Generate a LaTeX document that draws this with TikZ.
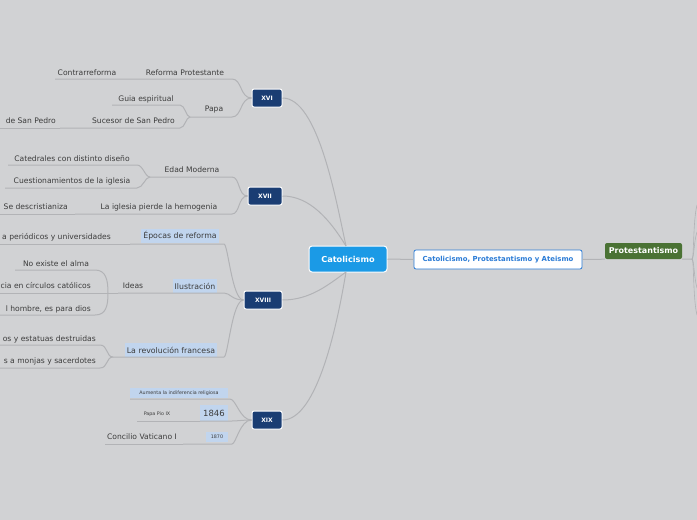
\documentclass[tikz,border=0pt]{standalone}
\usepackage{fontspec}
\setmainfont{DejaVu Sans}
\definecolor{bg}{RGB}{209,210,212}
\definecolor{ln}{RGB}{178,179,182}
\definecolor{txt}{RGB}{60,60,60}
\definecolor{navy}{RGB}{26,61,115}
\definecolor{catb}{RGB}{27,154,230}
\definecolor{grn}{RGB}{74,114,52}
\definecolor{hl}{RGB}{193,213,238}
\definecolor{linkb}{RGB}{42,123,214}
\tikzset{
  conn/.style={draw=ln, line width=1pt},
  lbl/.style={text=txt, font=\fontsize{7.6}{9}\selectfont, inner sep=0pt},
  hlbox/.style={fill=hl, text=txt, font=\fontsize{7.8}{9}\selectfont, inner sep=2pt, minimum height=14pt},
  century/.style={fill=navy, draw=white, line width=1pt, rounded corners=2pt, text=white, font=\bfseries\fontsize{6}{7}\selectfont, minimum height=18pt, inner sep=0pt},
}
\begin{document}
\begin{tikzpicture}[x=1pt,y=-1pt]
\path[fill=bg, use as bounding box] (0,0) rectangle (697,520);

% central nodes
\node[fill=catb, draw=white, line width=1pt, rounded corners=3pt, text=white, font=\bfseries\fontsize{8.2}{9}\selectfont, minimum width=78pt, minimum height=26pt, inner sep=0pt] (cat) at (348,259) {Catolicismo};
\node[fill=white, draw=linkb, line width=0.8pt, rounded corners=2pt, text=linkb, font=\bfseries\fontsize{6.9}{8}\selectfont, minimum width=168pt, minimum height=19pt, inner sep=0pt] (link) at (498,259.5) {Catolicismo, Protestantismo y Ateismo};
\node[fill=grn, rounded corners=2pt, text=white, font=\bfseries\fontsize{8}{9}\selectfont, minimum width=77pt, minimum height=16pt, inner sep=0pt] (prot) at (643.5,251) {Protestantismo};
\coordinate (protR) at (692,259);
\coordinate (e1) at (697,205);
\coordinate (e2) at (697,232);
\coordinate (e3) at (697,288);
\coordinate (e4) at (697,315);

% century nodes
\node[century, minimum width=30pt] (xvi) at (267,98) {XVI};
\node[century, minimum width=34pt] (xvii) at (265,196) {XVII};
\node[century, minimum width=38pt] (xviii) at (263,300) {XVIII};
\node[century, minimum width=30pt] (xix) at (267,420) {XIX};

% central connectors
\coordinate (catT) at (346,246);
\coordinate (catB) at (346,272);
\draw[conn] (xvi.east) .. controls (318,98) and (336,200) .. (catT);
\draw[conn] (xvii.east) .. controls (310,196) and (330,220) .. (catT);
\draw[conn] (xviii.east) .. controls (310,300) and (328,285) .. (catB);
\draw[conn] (xix.east) .. controls (318,420) and (338,320) .. (catB);
\draw[conn] (cat.east) -- (link.west);
\draw[conn] (link.east) -- (prot.south west);
\draw[conn] (prot.south east) -- (protR);
\draw[conn, line width=0.6pt] (protR) .. controls (694,259) and (693,220) .. (e1);
\draw[conn, line width=0.6pt] (protR) .. controls (694,259) and (694,240) .. (e2);
\draw[conn, line width=0.6pt] (protR) .. controls (694,259) and (694,278) .. (e3);
\draw[conn, line width=0.6pt] (protR) .. controls (694,259) and (693,300) .. (e4);

% ---------- XVI ----------
\node[lbl] (rp) at (185,73) {Reforma Protestante};
\node[lbl] (contra) at (87,73) {Contrarreforma};
\coordinate (rpR) at (232,79); \coordinate (rpL) at (135,79); \coordinate (coL) at (55,79);
\draw[conn] (xvi.west) .. controls (240,98) and (242,79) .. (rpR) -- (rpL) -- (coL);
\node[lbl] (papa) at (214,110) {Papa};
\coordinate (paR) at (232,117); \coordinate (paL) at (190,117);
\draw[conn] (xvi.west) .. controls (240,98) and (242,117) .. (paR) -- (paL);
\node[lbl] (guia) at (146,99) {Guia espiritual};
\coordinate (guR) at (180,105); \coordinate (guL) at (112,105);
\draw[conn] (paL) .. controls (186,117) and (185,105) .. (guR) -- (guL);
\node[lbl, anchor=east] (suc) at (175,121) {Sucesor de San Pedro};
\coordinate (suR) at (180,128); \coordinate (suL) at (60,128); \coordinate (sdL) at (0,128);
\draw[conn] (paL) .. controls (186,117) and (185,128) .. (suR) -- (suL);
\node[lbl, anchor=east] (sdsp) at (56,121) {de San Pedro};
\draw[conn] (suL) -- (sdL);

% ---------- XVII ----------
\node[lbl] (edad) at (192,170) {Edad Moderna};
\coordinate (edR) at (232,177); \coordinate (edL) at (150,177);
\draw[conn] (xvii.west) .. controls (238,196) and (240,177) .. (edR) -- (edL);
\node[lbl] (catd) at (72,159) {Catedrales con distinto diseño};
\coordinate (caR) at (137,165); \coordinate (caL) at (8,165);
\draw[conn] (edL) .. controls (145,177) and (143,165) .. (caR) -- (caL);
\node[lbl] (cues) at (72,181) {Cuestionamientos de la iglesia};
\coordinate (cuR) at (137,188); \coordinate (cuL) at (5,188);
\draw[conn] (edL) .. controls (145,177) and (143,188) .. (cuR) -- (cuL);
\node[lbl] (pierde) at (159,207) {La iglesia pierde la hemogenia};
\coordinate (piR) at (232,214); \coordinate (piL) at (75,214); \coordinate (seL) at (0,214);
\draw[conn] (xvii.west) .. controls (238,196) and (240,214) .. (piR) -- (piL);
\node[lbl, anchor=east] (sedes) at (68,207) {Se descristianiza};
\draw[conn] (piL) -- (seL);

% ---------- XVIII ----------
\node[hlbox] (epocas) at (180,236) {Épocas de reforma};
\coordinate (epR) at (224,244); \coordinate (epL) at (130,244); \coordinate (peL) at (0,244);
\draw[conn] (xviii.west) .. controls (232,300) and (228,244) .. (epR) -- (epL);
\node[lbl, anchor=east] (perio) at (111,237) {a periódicos y universidades};
\draw[conn] (epL) -- (peL);

\node[hlbox] (ilus) at (195,286) {Ilustración};
\coordinate (ilR) at (224,293); \coordinate (ilL) at (118,293);
\draw[conn] (xviii.west) .. controls (232,300) and (230,293) .. (ilR) -- (ilL);
\node[lbl] (ideas) at (133,286) {Ideas};
\coordinate (idL) at (108,293);
\draw[conn] (ilL) -- (idL);
\node[lbl] (alma) at (56,264) {No existe el alma};
\coordinate (alR) at (95,270); \coordinate (alL) at (15,270);
\draw[conn] (idL) .. controls (108,280) and (106,270) .. (alR) -- (alL);
\node[lbl, anchor=east] (circ) at (91,286) {cia en círculos católicos};
\coordinate (ciL) at (0,293);
\draw[conn] (idL) -- (ciL);
\node[lbl, anchor=east] (hombre) at (91,309) {l hombre, es para dios};
\coordinate (hoR) at (95,315); \coordinate (hoL) at (0,315);
\draw[conn] (idL) .. controls (108,306) and (106,315) .. (hoR) -- (hoL);

\node[hlbox] (revo) at (171,350) {La revolución francesa};
\coordinate (reR) at (224,357); \coordinate (reL) at (113,357);
\draw[conn] (xviii.west) .. controls (232,300) and (228,357) .. (reR) -- (reL);
\node[lbl, anchor=east] (estat) at (96,339) {os y estatuas destruidas};
\coordinate (esR) at (100,345); \coordinate (esL) at (0,345);
\draw[conn] (reL) .. controls (106,357) and (108,345) .. (esR) -- (esL);
\node[lbl, anchor=east] (monj) at (96,361) {s a monjas y sacerdotes};
\coordinate (moR) at (100,368); \coordinate (moL) at (0,368);
\draw[conn] (reL) .. controls (106,357) and (108,368) .. (moR) -- (moL);

% ---------- XIX ----------
\node[fill=hl, text=txt, font=\fontsize{4.8}{5}\selectfont, inner sep=1.5pt, minimum width=98pt, minimum height=10pt] (aum) at (179,393) {Aumenta la indiferencia religiosa};
\coordinate (auR) at (230,399); \coordinate (auL) at (130,399);
\draw[conn] (xix.west) .. controls (240,420) and (236,399) .. (auR) -- (auL);
\node[fill=hl, text=txt, font=\fontsize{8.5}{10}\selectfont, inner sep=0pt, minimum width=28pt, minimum height=16pt] (y1846) at (214,413) {1846};
\coordinate (y4R) at (232,421); \coordinate (y4L) at (200,421);
\draw[conn] (xix.west) .. controls (242,420) and (238,421) .. (y4R) -- (y4L);
\node[lbl, font=\fontsize{4.8}{5}\selectfont] (pio) at (157,414) {Papa Pio IX};
\coordinate (piL2) at (137,421);
\draw[conn] (y4L) -- (piL2);
\node[fill=hl, text=txt, font=\fontsize{4.8}{5}\selectfont, inner sep=0pt, minimum width=22pt, minimum height=10pt] (y1870) at (217,437) {1870};
\coordinate (y7R) at (232,444); \coordinate (y7L) at (183,444);
\draw[conn] (xix.west) .. controls (240,420) and (236,444) .. (y7R) -- (y7L);
\node[lbl] (conc) at (142,437) {Concilio Vaticano I};
\coordinate (coL2) at (105,444);
\draw[conn] (y7L) -- (coL2);
\end{tikzpicture}
\end{document}
